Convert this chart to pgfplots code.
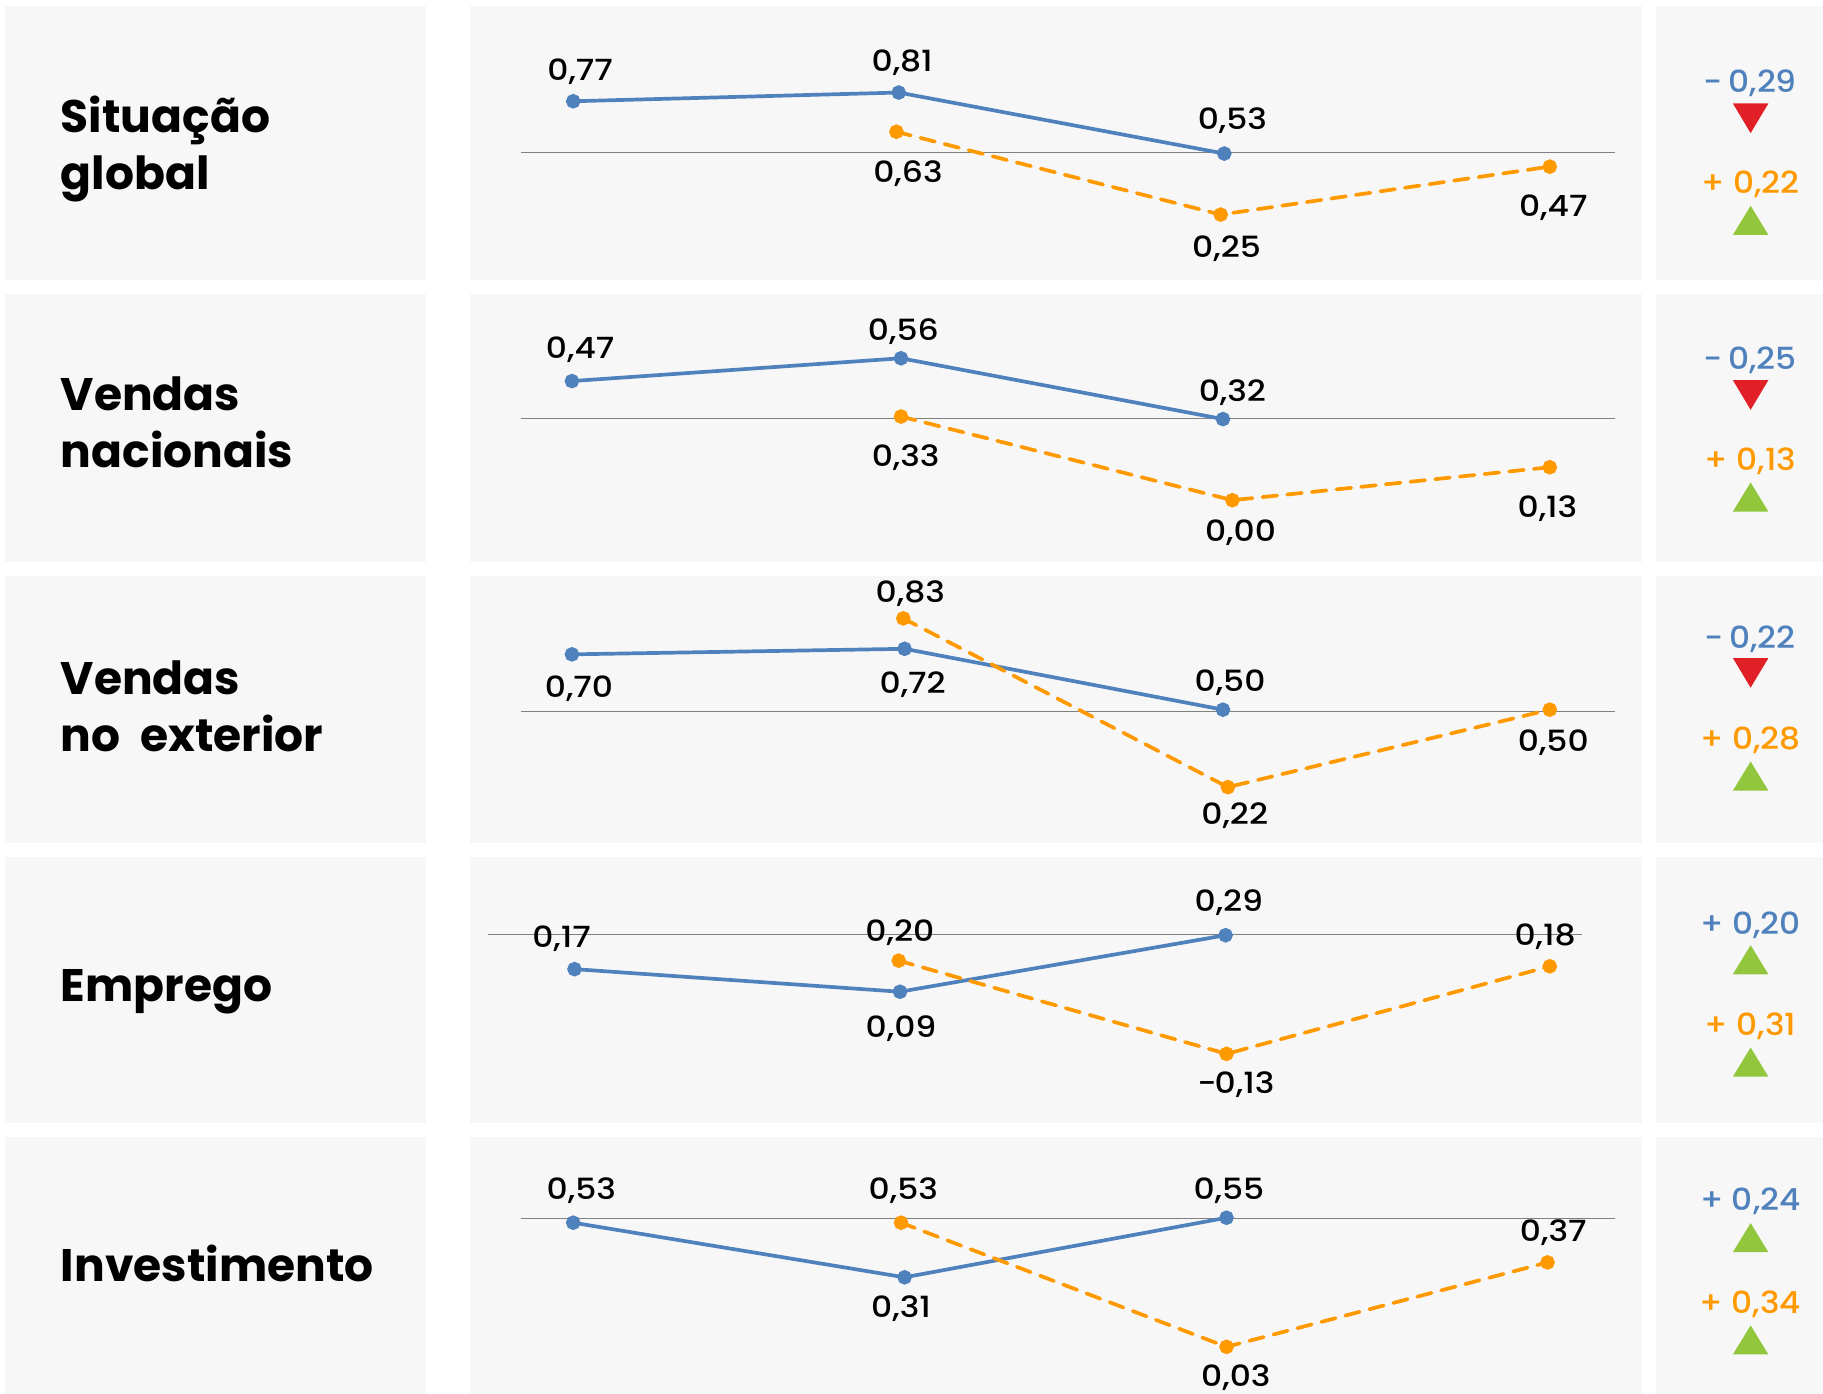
\documentclass[border=0pt]{standalone}
\usepackage{fontspec}
\setmainfont{Poppins}
\newfontfamily\valfont[FakeStretch=1.13]{Poppins Medium}
\newfontfamily\chgfont[FakeStretch=1.08]{Poppins Medium}
\usepackage{pgfplots}
\pgfplotsset{compat=1.18}
\definecolor{panelbg}{HTML}{F7F7F7}
\definecolor{serblue}{HTML}{4F81BD}
\definecolor{serorange}{HTML}{FF9900}
\definecolor{upgreen}{HTML}{92C73D}
\definecolor{downred}{HTML}{E01F26}
\definecolor{zeroline}{HTML}{808080}
\pgfplotsset{
  rowaxis/.style={hide axis, scale only axis, clip=false, anchor=north west,
    width=586.26pt, xmin=-0.318, xmax=3.284},
  blueline/.style={serblue, line width=1.85pt, mark=*, mark size=2.7pt},
  orangeline/.style={serorange, line width=1.85pt, line cap=round,
    dash pattern=on 7.4pt off 5pt, mark=*, mark size=2.7pt, mark options={solid}},
  baseline/.style={zeroline, line width=0.5pt, forget plot},
}
% row title, value label, change label and the two arrow shapes
\newcommand{\rowtitle}[3]{\node[anchor=base west,font=\fontsize{22.8}{22.8}\selectfont\bfseries,inner sep=0pt] at (#1,#2) {#3};}
\newcommand{\val}[3]{\node[font=\valfont\fontsize{14.6}{14.6}\selectfont,inner sep=0pt] at (#1,#2+1.5) {#3};}
\newcommand{\chg}[3]{\node[font=\chgfont\fontsize{15.2}{15.2}\selectfont,text=#1,inner sep=0pt] at (1505.5,#2+1.5) {#3};}
\newcommand{\arrowup}[1]{\fill[upgreen] (1490.5,#1+25) -- (1521,#1+25) -- (1505.75,#1) -- cycle;}
\newcommand{\arrowdown}[1]{\fill[downred] (1490.5,#1) -- (1521,#1) -- (1505.75,#1+25.5) -- cycle;}
\begin{document}
\begin{tikzpicture}[x=0.58131pt,y=-0.58131pt]
\useasboundingbox (0,0) rectangle (1568,1199);
% panel backgrounds
\foreach \t/\b in {5/241,253/483,495/725,737/966,978/1199}{
  \fill[panelbg] (4,\t) rectangle (366,\b);
  \fill[panelbg] (404,\t) rectangle (1412.5,\b);
  \fill[panelbg] (1424,\t) rectangle (1568,\b);
}
\coordinate (a1) at (404,5);
\coordinate (a2) at (404,253);
\coordinate (a3) at (404,495);
\coordinate (a4) at (404,737);
\coordinate (a5) at (404,978);

% Situação global
\begin{axis}[rowaxis, at={(a1)}, height=137.19pt, ymin=-0.051, ymax=1.208]
\addplot[baseline] coordinates {(-0.161,0.535)(3.199,0.535)};
\addplot[blueline] coordinates {(0,0.77)(1,0.81)(2,0.53)};
\addplot[orangeline] coordinates {(0.993,0.63)(1.989,0.25)(3,0.47)};
\end{axis}
% Vendas nacionais
\begin{axis}[rowaxis, at={(a2)}, height=133.70pt, ymin=-0.242, ymax=0.813]
\addplot[baseline] coordinates {(-0.161,0.322)(3.199,0.322)};
\addplot[blueline] coordinates {(-0.004,0.47)(1.007,0.56)(1.996,0.32)};
\addplot[orangeline] coordinates {(1.007,0.33)(2.025,0.00)(3,0.13)};
\end{axis}
% Vendas no exterior
\begin{axis}[rowaxis, at={(a3)}, height=133.70pt, ymin=0.0185, ymax=0.985]
\addplot[baseline] coordinates {(-0.161,0.495)(3.199,0.495)};
\addplot[blueline] coordinates {(-0.004,0.70)(1.018,0.72)(1.996,0.50)};
\addplot[orangeline] coordinates {(1.014,0.83)(2.011,0.22)(3,0.50)};
\end{axis}
% Emprego
\begin{axis}[rowaxis, at={(a4)}, height=133.12pt, ymin=-0.375, ymax=0.5675]
\addplot[baseline] coordinates {(-0.261,0.292)(3.1,0.292)};
\addplot[blueline] coordinates {(0.004,0.17)(1.004,0.09)(2.004,0.29)};
\addplot[orangeline] coordinates {(1,0.20)(2.007,-0.13)(3,0.18)};
\end{axis}
% Investimento
\begin{axis}[rowaxis, at={(a5)}, height=128.47pt, ymin=-0.16, ymax=0.875]
\addplot[baseline] coordinates {(-0.161,0.547)(3.199,0.547)};
\addplot[blueline] coordinates {(0,0.53)(1.018,0.31)(2.007,0.55)};
\addplot[orangeline] coordinates {(1.007,0.53)(2.007,0.03)(2.993,0.37)};
\end{axis}

% row titles
\rowtitle{52}{114}{Situação}
\rowtitle{52}{163}{global}
\rowtitle{52}{353}{Vendas}
\rowtitle{52}{402}{nacionais}
\rowtitle{52}{597}{Vendas}
\rowtitle{52}{646}{no\hspace{5pt} exterior}
\rowtitle{52}{861}{Emprego}
\rowtitle{52}{1102}{Investimento}

% value labels
\val{499}{60}{0,77}\val{776}{52}{0,81}\val{1060}{102}{0,53}
\val{781}{148}{0,63}\val{1055}{212}{0,25}\val{1336}{177}{0,47}
\val{499}{299}{0,47}\val{777}{284}{0,56}\val{1060}{336}{0,32}
\val{779}{392}{0,33}\val{1067}{457}{0,00}\val{1331}{436}{0,13}
\val{498}{591}{0,70}\val{785}{587}{0,72}\val{1058}{586}{0,50}
\val{783}{509}{0,83}\val{1062}{700}{0,22}\val{1336}{637}{0,50}
\val{483}{806}{0,17}\val{775}{883}{0,09}\val{1057}{775}{0,29}
\val{774}{801}{0,20}\val{1063}{931}{-\hspace{-1pt}0,13}\val{1329}{804}{0,18}
\val{500}{1023}{0,53}\val{775}{1124}{0,31}\val{1057}{1023}{0,55}
\val{777}{1023}{0,53}\val{1063}{1183}{0,03}\val{1336}{1059}{0,37}

% change column
\chg{serblue}{70}{-\hspace{-1.5pt} 0,29}\arrowdown{89}
\chg{serorange}{157}{+ 0,22}\arrowup{177}
\chg{serblue}{308}{-\hspace{-1.5pt} 0,25}\arrowdown{327}
\chg{serorange}{395}{+ 0,13}\arrowup{415}
\chg{serblue}{548}{-\hspace{-1.5pt} 0,22}\arrowdown{566}
\chg{serorange}{635}{+ 0,28}\arrowup{655}
\chg{serblue}{794}{+ 0,20}\arrowup{813}
\chg{serorange}{881}{+ 0,31}\arrowup{901}
\chg{serblue}{1032}{+ 0,24}\arrowup{1052}
\chg{serorange}{1120}{+ 0,34}\arrowup{1140}
\end{tikzpicture}
\end{document}
